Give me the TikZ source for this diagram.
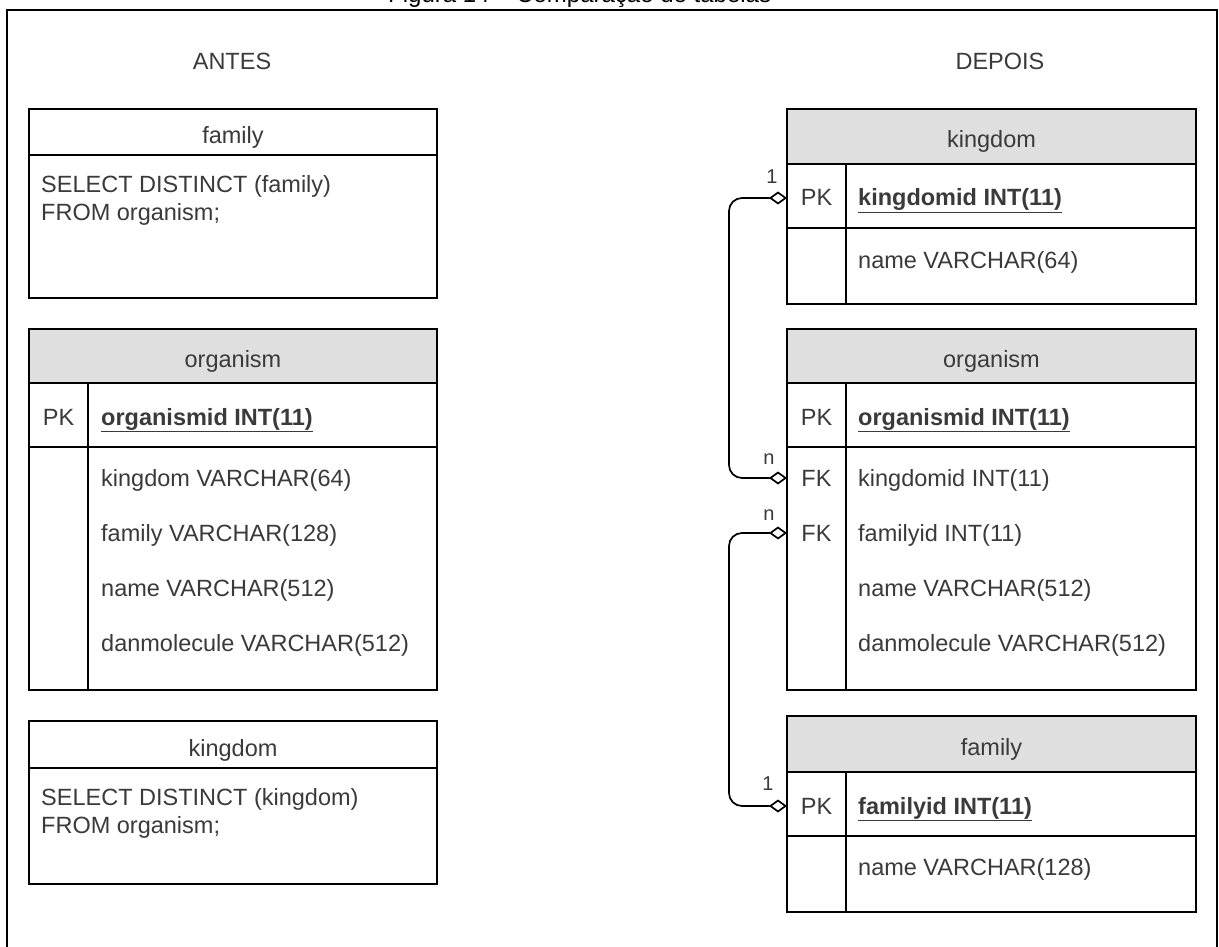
\documentclass[tikz,border=0pt]{standalone}
\usepackage{fontspec}
\setmainfont{Liberation Sans}
\usetikzlibrary{arrows.meta}
\definecolor{hdrgray}{HTML}{DFDFDF}
\definecolor{ink}{HTML}{3A3A3A}
\newcommand{\tabfont}{\fontsize{23.5}{27}\selectfont}
\newcommand{\cardfont}{\fontsize{20}{22}\selectfont}
\newcommand{\keyfield}[1]{\underline{\textbf{#1}}}
\begin{document}
\begin{tikzpicture}[x=1pt,y=-1pt,
  ln/.style={draw=black,line width=1.7pt},
  tablebox/.style={ln,fill=white,anchor=north west,inner sep=0pt,outer sep=0pt,minimum width=#1},
  headbox/.style={ln,fill=hdrgray,anchor=north west,inner sep=0pt,outer sep=0pt,
    text=ink,font=\tabfont,text height=23pt,text depth=0pt,minimum width=#1},
  plainhead/.style={headbox=#1,fill=white},
  fld/.style={anchor=base west,inner sep=0pt,text=ink,font=\tabfont},
  keyl/.style={anchor=base,inner sep=0pt,text=ink,font=\tabfont},
  card/.style={inner sep=0pt,text=ink,font=\cardfont},
  dtip/.tip={Diamond[open,length=18pt,width=13pt,line width=1.7pt]},
  rel/.style={draw=black,line width=1.7pt,rounded corners=13pt,dtip-dtip}
]
\useasboundingbox (0,0) rectangle (1219,947);
\fill[white] (0,0) rectangle (1219,947);

% caption above the frame (mostly outside the page)
\node[anchor=base west,inner sep=0pt,font=\fontsize{24}{28}\selectfont,text=black]
  (caption) at (388,3) {Figura 14 – Comparação de tabelas};

% outer frame
\draw[line width=2pt] (7,960) -- (7,10) -- (1217,10) -- (1217,960);

% column titles
\node[keyl] (antes) at (232,70) {ANTES};
\node[keyl] (depois) at (1000,70) {DEPOIS};

% ---------------- ANTES ----------------
% family (query)
\node[tablebox=408pt,minimum height=189pt] (famA) at (29,109) {};
\node[plainhead=408pt,minimum height=46pt] (famAh) at (29,109) {family};
\node[fld] (famAq1) at (41,193) {SELECT DISTINCT (family)};
\node[fld] (famAq2) at (41,220) {FROM organism;};

% organism (original)
\node[tablebox=408pt,minimum height=361pt] (orgA) at (29,329) {};
\node[headbox=408pt,minimum height=54pt] (orgAh) at (29,329) {organism};
\draw[ln] (29,447) -- (437,447);
\draw[ln] (88,383) -- (88,690);
\node[keyl] (orgApk) at (58.5,425) {PK};
\node[fld] (orgAf0) at (101,425) {\keyfield{organismid INT(11)}};
\node[fld] (orgAf1) at (101,486) {kingdom VARCHAR(64)};
\node[fld] (orgAf2) at (101,541) {family VARCHAR(128)};
\node[fld] (orgAf3) at (101,596) {name VARCHAR(512)};
\node[fld] (orgAf4) at (101,651) {danmolecule VARCHAR(512)};

% kingdom (query)
\node[tablebox=408pt,minimum height=163pt] (kgA) at (29,721) {};
\node[plainhead=408pt,minimum height=47pt] (kgAh) at (29,721) {kingdom};
\node[fld] (kgAq1) at (41,805) {SELECT DISTINCT (kingdom)};
\node[fld] (kgAq2) at (41,833) {FROM organism;};

% ---------------- DEPOIS ----------------
% kingdom
\node[tablebox=409pt,minimum height=195pt] (kgB) at (787,109) {};
\node[headbox=409pt,minimum height=55pt] (kgBh) at (787,109) {kingdom};
\draw[ln] (787,228) -- (1196,228);
\draw[ln] (846,164) -- (846,304);
\node[keyl] (kgBpk) at (816.5,206) {PK};
\node[fld] (kgBf0) at (858,206) {\keyfield{kingdomid INT(11)}};
\node[fld] (kgBf1) at (858,268) {name VARCHAR(64)};

% organism
\node[tablebox=409pt,minimum height=361pt] (orgB) at (787,329) {};
\node[headbox=409pt,minimum height=54pt] (orgBh) at (787,329) {organism};
\draw[ln] (787,447) -- (1196,447);
\draw[ln] (846,383) -- (846,690);
\node[keyl] (orgBpk) at (816.5,425) {PK};
\node[keyl] (orgBfk1) at (816.5,486) {FK};
\node[keyl] (orgBfk2) at (816.5,541) {FK};
\node[fld] (orgBf0) at (858,425) {\keyfield{organismid INT(11)}};
\node[fld] (orgBf1) at (858,486) {kingdomid INT(11)};
\node[fld] (orgBf2) at (858,541) {familyid INT(11)};
\node[fld] (orgBf3) at (858,596) {name VARCHAR(512)};
\node[fld] (orgBf4) at (858,651) {danmolecule VARCHAR(512)};

% family
\node[tablebox=409pt,minimum height=196pt] (famB) at (787,716) {};
\node[headbox=409pt,minimum height=56pt] (famBh) at (787,716) {family};
\draw[ln] (787,836) -- (1196,836);
\draw[ln] (846,772) -- (846,912);
\node[keyl] (famBpk) at (816.5,814) {PK};
\node[fld] (famBf0) at (858,814) {\keyfield{familyid INT(11)}};
\node[fld] (famBf1) at (858,875) {name VARCHAR(128)};

% relationships
\coordinate (kgEnd)  at ([yshift=8pt]kgBpk.base -| kgB.west);
\coordinate (fk1End) at ([yshift=8pt]orgBfk1.base -| orgB.west);
\coordinate (fk2End) at ([yshift=8pt]orgBfk2.base -| orgB.west);
\coordinate (famEnd) at ([yshift=8pt]famBpk.base -| famB.west);

\draw[rel] (kgEnd) -- (729,198) |- (fk1End);
\draw[rel] (fk2End) -- (729,533) |- (famEnd);

\node[card] (c1) at (772,177) {1};
\node[card] (c2) at (769,459) {n};
\node[card] (c3) at (769,515) {n};
\node[card] (c4) at (768,784) {1};
\end{tikzpicture}
\end{document}
